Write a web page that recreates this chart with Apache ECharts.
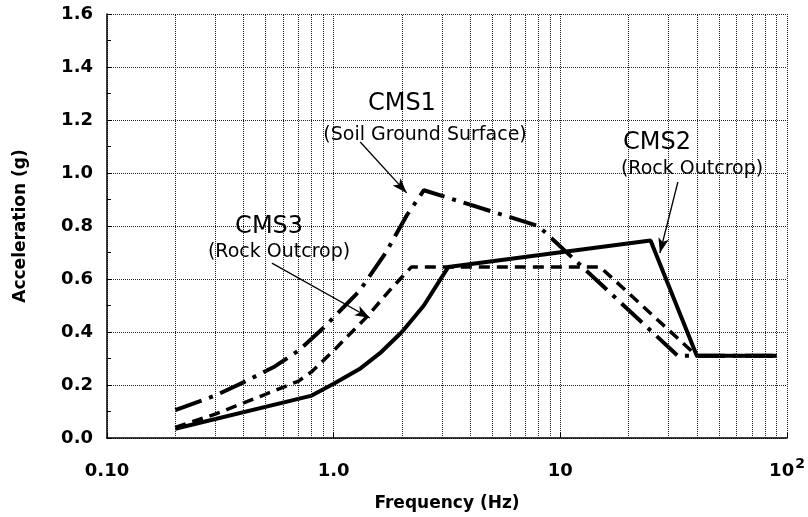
<!DOCTYPE html>
<html>
<head>
<meta charset="utf-8">
<script src="https://cdn.jsdelivr.net/npm/echarts@6/dist/echarts.min.js"></script>
<style>
  html, body { margin: 0; padding: 0; background: #fff; }
  #chart { width: 808px; height: 517px; }
</style>
</head>
<body>
<div id="chart"></div>
<script>
// 频率 (Hz) / 加速度 (g)
const cms1Freq = [0.2, 0.3, 0.4, 0.55, 0.7, 0.9, 1.3, 1.7, 2.1, 2.5, 8, 33, 90];
const cms1Acc  = [0.105, 0.16, 0.21, 0.27, 0.33, 0.415, 0.555, 0.70, 0.84, 0.935, 0.80, 0.31, 0.31];
const cms2Freq = [0.2, 0.8, 1.0, 1.3, 1.6, 2.0, 2.5, 3.2, 25, 40, 90];
const cms2Acc  = [0.035, 0.16, 0.205, 0.26, 0.32, 0.40, 0.50, 0.645, 0.745, 0.31, 0.31];
const cms3Freq = [0.2, 0.3, 0.5, 0.7, 0.8, 1.0, 1.4, 1.8, 2.2, 15, 40, 90];
const cms3Acc  = [0.04, 0.09, 0.165, 0.215, 0.25, 0.33, 0.457, 0.565, 0.645, 0.645, 0.31, 0.31];

// 刻度
const xTickLabels = { "-1": "0.10", "0": "1.0", "1": "10", "2": "{b|10}{s|2}" };
const minorFreqs = [0.2, 0.3, 0.4, 0.5, 0.6, 0.7, 0.8, 0.9, 2, 3, 4, 5, 6, 7, 8, 9, 20, 30, 40, 50, 60, 70, 80, 90];

// 注释 [名称, 说明, 名称位置, 说明位置, 箭头起点, 箭头终点]
const cms1Note = ["CMS1", "(Soil Ground Surface)", [2.0, 1.26], [2.53, 1.143], [1.31, 1.117], [2.1, 0.925]];
const cms2Note = ["CMS2", "(Rock Outcrop)", [26.7, 1.113], [38.1, 1.015], [33.0, 0.966], [27.5, 0.698]];
const cms3Note = ["CMS3", "(Rock Outcrop)", [0.519, 0.796], [0.574, 0.702], [0.534, 0.66], [1.445, 0.453]];

const FONT = "DejaVu Sans";
const zip = (xs, ys) => xs.map((x, i) => [x, ys[i]]);

function note(n) {
  return {
    markPoint: {
      silent: true,
      symbol: "rect",
      symbolSize: 1,
      itemStyle: { color: "transparent" },
      data: [
        { coord: n[2], label: { show: true, position: "inside", formatter: n[0], fontFamily: FONT, fontSize: 24, color: "#000" } },
        { coord: n[3], label: { show: true, position: "inside", formatter: n[1], fontFamily: FONT, fontSize: 19, color: "#000" } },
      ],
    },
    markLine: {
      silent: true,
      symbol: ["none", "arrow"],
      symbolSize: [8, 15],
      label: { show: false },
      lineStyle: { color: "#000", width: 1.3, type: "solid" },
      data: [[{ coord: n[4] }, { coord: n[5] }]],
    },
  };
}

const myChart = echarts.init(document.getElementById("chart"));
myChart.setOption({
  animation: false,
  textStyle: { fontFamily: FONT, color: "#000" },
  grid: { left: 107, right: 21, top: 14, bottom: 79 },
  xAxis: {
    type: "log",
    logBase: 10,
    min: 0.1,
    max: 100,
    name: "Frequency (Hz)",
    nameLocation: "middle",
    nameGap: 57,
    nameTextStyle: { fontFamily: FONT, fontSize: 17, fontWeight: "bold", color: "#000" },
    axisLine: { show: true, lineStyle: { color: "#000", width: 1.5 } },
    axisTick: { show: true, inside: true, length: 5, lineStyle: { color: "#000" } },
    axisLabel: {
      margin: 24,
      fontFamily: FONT,
      fontSize: 18,
      fontWeight: "bold",
      color: "#000",
      formatter: (v) => xTickLabels[String(Math.round(Math.log10(v)))] || "",
      rich: {
        b: { fontFamily: FONT, fontSize: 18, fontWeight: "bold", color: "#000", lineHeight: 18, verticalAlign: "bottom" },
        s: { fontFamily: FONT, fontSize: 14, fontWeight: "bold", color: "#000", lineHeight: 14, verticalAlign: "bottom", padding: [0, 0, 9, 1] },
      },
    },
    splitLine: { show: true, lineStyle: { color: "#222", width: 1, type: "dotted" } },
  },
  yAxis: {
    type: "value",
    min: 0,
    max: 1.6,
    interval: 0.2,
    name: "Acceleration (g)",
    nameLocation: "middle",
    nameGap: 78,
    nameTextStyle: { fontFamily: FONT, fontSize: 17, fontWeight: "bold", color: "#000" },
    axisLine: { show: true, lineStyle: { color: "#000", width: 1.5 } },
    axisTick: { show: true, inside: true, length: 5, lineStyle: { color: "#000" } },
    minorTick: { show: true, splitNumber: 2, length: 4, lineStyle: { color: "#000" } },
    axisLabel: {
      margin: 14,
      fontFamily: FONT,
      fontSize: 18,
      fontWeight: "bold",
      color: "#000",
      formatter: (v) => v.toFixed(1),
    },
    splitLine: { show: true, lineStyle: { color: "#222", width: 1, type: "dotted" } },
  },
  series: [
    {
      name: "grid",
      type: "line",
      data: [],
      z: 1,
      silent: true,
      markLine: {
        silent: true,
        symbol: ["none", "none"],
        label: { show: false },
        lineStyle: { color: "#222", width: 1, type: "dotted" },
        data: minorFreqs.map((f) => ({ xAxis: f })),
      },
    },
    Object.assign({
      name: "CMS1",
      type: "line",
      z: 3,
      data: zip(cms1Freq, cms1Acc),
      showSymbol: false,
      lineStyle: { color: "#000", width: 4, type: [28, 8, 4, 8], cap: "butt" },
    }, note(cms1Note)),
    Object.assign({
      name: "CMS2",
      type: "line",
      z: 4,
      data: zip(cms2Freq, cms2Acc),
      showSymbol: false,
      lineStyle: { color: "#000", width: 4 },
    }, note(cms2Note)),
    Object.assign({
      name: "CMS3",
      type: "line",
      z: 3,
      data: zip(cms3Freq, cms3Acc),
      showSymbol: false,
      lineStyle: { color: "#000", width: 3.5, type: [11, 7], cap: "butt" },
    }, note(cms3Note)),
  ],
});
</script>
</body>
</html>
